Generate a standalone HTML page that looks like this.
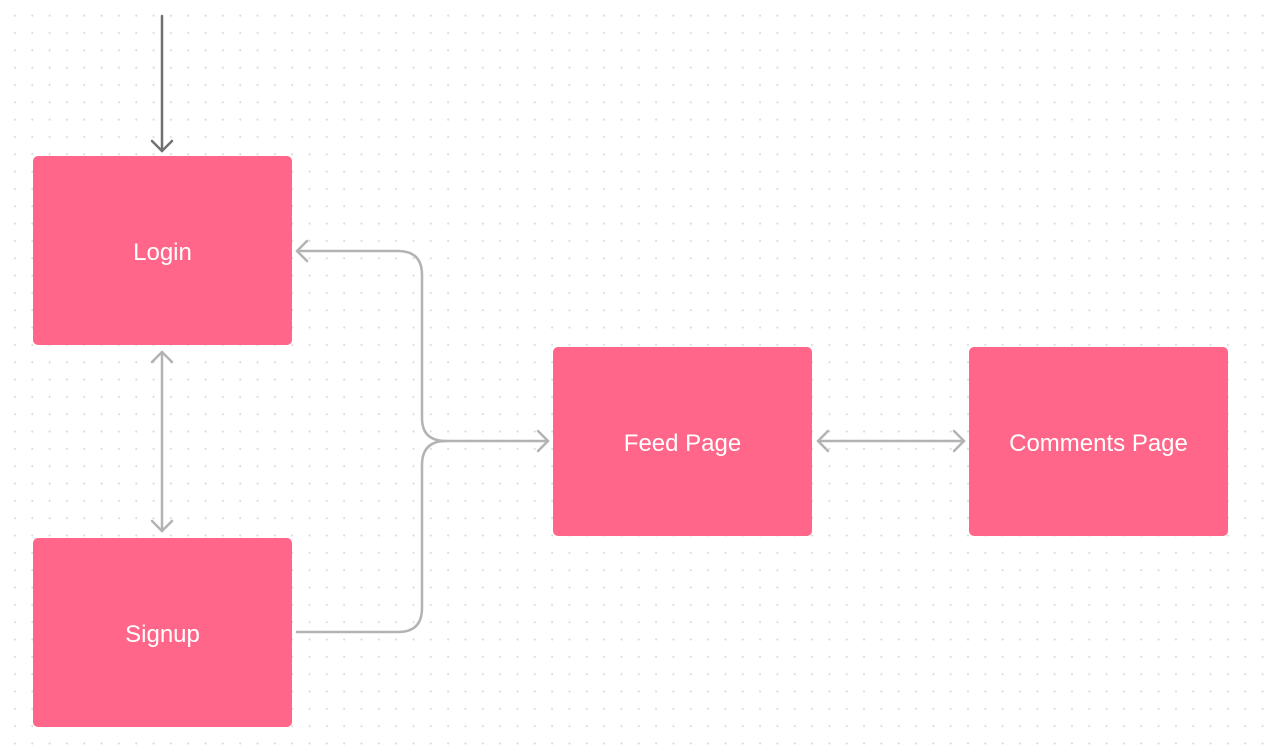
<!DOCTYPE html>
<html><head><style>
html,body{margin:0;padding:0;}
body{width:1264px;height:754px;overflow:hidden;background:#fff;
background-image:radial-gradient(circle,#dadada 0.9px,transparent 1.2px);
background-size:17.33px 17.33px;background-position:6.3px 7px;position:relative;font-family:"Liberation Sans",sans-serif;}
.b{position:absolute;width:259px;height:189px;background:#ff6689;border-radius:5px;color:#fff;font-size:24px;display:flex;align-items:center;justify-content:center;box-sizing:border-box;padding-top:4px;}
svg{position:absolute;left:0;top:0;}
</style></head><body>
<div class="b" style="left:33px;top:156px">Login</div>
<div class="b" style="left:33px;top:538px">Signup</div>
<div class="b" style="left:553px;top:347px">Feed Page</div>
<div class="b" style="left:969px;top:347px">Comments Page</div>
<svg width="1264" height="754" fill="none" stroke-linecap="round" stroke-linejoin="round">
<g stroke="#707070" stroke-width="2.5">
<path d="M162 16V151"/><path d="M152 141L162 151L172 141"/>
</g>
<g stroke="#b3b3b3" stroke-width="2.5">
<path d="M297 251H398Q422 251 422 275V418Q422 441 446 441H548"/>
<path d="M297 632H398Q422 632 422 608V465Q422 441 446 441"/>
<path d="M307 241L297 251L307 261"/>
<path d="M538 431L548 441L538 451"/>
<path d="M162 352V531"/><path d="M152 362L162 352L172 362"/><path d="M152 521L162 531L172 521"/>
<path d="M818 441H964"/><path d="M828 431L818 441L828 451"/><path d="M954 431L964 441L954 451"/>
</g>
</svg>
</body></html>
